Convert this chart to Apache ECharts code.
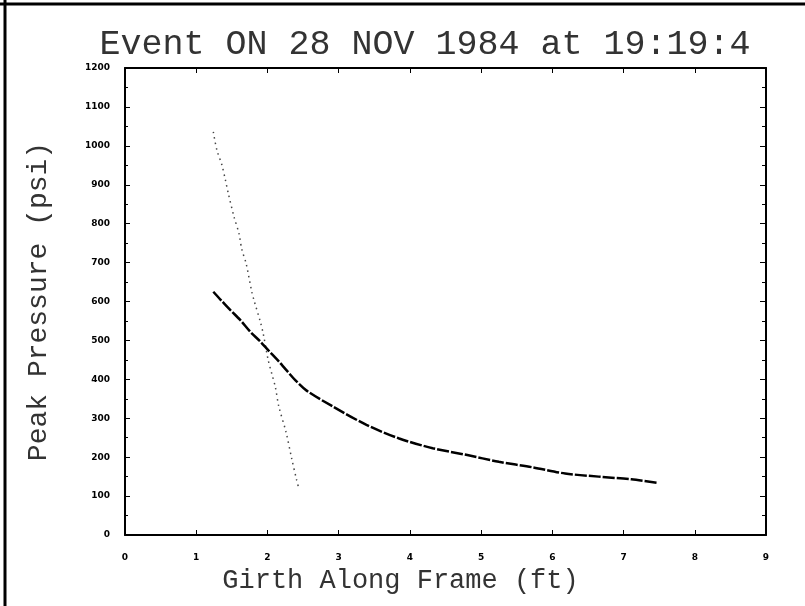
<!DOCTYPE html>
<html lang="en">
<head>
    <meta charset="UTF-8">
    <title>Peak Pressure</title>
    <style>
        body { margin: 0; background: #fff; }
    </style>
</head>
<body>
    <div id="card" style="width: 805px;height:606px;"></div>
    <script src="https://cdn.jsdelivr.net/npm/echarts@6/dist/echarts.min.js"></script>
    <script>
        var titleText = 'Event ON 28 NOV 1984 at 19:19:4'
        var xName = 'Girth Along Frame (ft)'
        var yName = 'Peak Pressure (psi)'

        // steep dotted curve
        var dottedCurve = [
            [1.24, 1036], [1.29, 989], [1.36, 951], [1.41, 912], [1.45, 878],
            [1.53, 818], [1.60, 775], [1.64, 734], [1.70, 698], [1.78, 625],
            [1.81, 604], [1.90, 548], [1.94, 518], [2.01, 450], [2.06, 415],
            [2.11, 381], [2.16, 330], [2.26, 265], [2.34, 197], [2.41, 141],
            [2.44, 120]
        ]
        // heavy curve
        var heavyCurve = [
            [1.24, 625], [1.34, 605], [1.48, 578], [1.62, 552], [1.76, 522],
            [1.90, 497], [2.01, 475], [2.15, 448], [2.25, 427], [2.39, 398],
            [2.55, 371], [2.92, 330], [3.39, 283], [3.85, 248], [4.32, 223],
            [4.79, 206], [5.25, 188], [5.72, 174], [6.18, 158], [6.65, 150],
            [7.11, 143], [7.48, 134]
        ]

        var mono = 'Liberation Mono'
        var tickFont = { color: '#000', fontSize: 9, fontWeight: 'bold', fontFamily: 'DejaVu Sans' }

        var option = {
            backgroundColor: '#fff',
            animation: false,
            title: {
                text: titleText,
                left: 420,
                top: 22,
                textAlign: 'center',
                textStyle: { fontFamily: mono, fontSize: 35, fontWeight: 'normal', color: '#333' }
            },
            graphic: [
                { type: 'line', shape: { x1: 0, y1: 4, x2: 805, y2: 4 }, style: { stroke: '#000', lineWidth: 3 } },
                { type: 'line', shape: { x1: 5, y1: 0, x2: 5, y2: 606 }, style: { stroke: '#000', lineWidth: 3 } }
            ],
            grid: { left: 125, right: 39, top: 68, bottom: 71 },
            xAxis: [{
                type: 'value',
                min: 0, max: 9, interval: 1,
                name: xName,
                nameLocation: 'middle',
                nameGap: 28,
                nameTextStyle: { fontFamily: mono, fontSize: 27, color: '#333', padding: [0, 90, 0, 0] },
                axisLine: { onZero: false, lineStyle: { color: '#000', width: 2 } },
                axisTick: { inside: true, length: 5, lineStyle: { color: '#000' } },
                axisLabel: Object.assign({ margin: 18 }, tickFont),
                splitLine: { show: false }
            }, {
                type: 'value',
                position: 'top',
                min: 0, max: 9, interval: 1,
                axisLine: { show: true, onZero: false, lineStyle: { color: '#000', width: 2 } },
                axisTick: { inside: true, length: 5, lineStyle: { color: '#000' } },
                axisLabel: { show: false },
                splitLine: { show: false }
            }],
            yAxis: [{
                type: 'value',
                min: 0, max: 1200, interval: 100,
                name: yName,
                nameLocation: 'middle',
                nameGap: 72,
                nameTextStyle: { fontFamily: mono, fontSize: 28, color: '#333' },
                axisLine: { show: true, onZero: false, lineStyle: { color: '#000', width: 2 } },
                axisTick: { inside: true, length: 5, lineStyle: { color: '#000' } },
                minorTick: { show: true, splitNumber: 2, length: 3, lineStyle: { color: '#000' } },
                axisLabel: Object.assign({ margin: 15, formatter: function (v) { return String(v) } }, tickFont),
                splitLine: { show: false }
            }, {
                type: 'value',
                position: 'right',
                min: 0, max: 1200, interval: 100,
                axisLine: { show: true, onZero: false, lineStyle: { color: '#000', width: 2 } },
                axisTick: { inside: true, length: 6, lineStyle: { color: '#000' } },
                minorTick: { show: true, splitNumber: 2, length: 4, lineStyle: { color: '#000' } },
                axisLabel: { show: false },
                splitLine: { show: false }
            }],
            series: [{
                type: 'line',
                data: dottedCurve,
                smooth: 0.3,
                symbol: 'none',
                lineStyle: { color: '#444', width: 1.5, type: [1.5, 4] }
            }, {
                type: 'line',
                data: heavyCurve,
                smooth: 0.3,
                symbol: 'none',
                lineStyle: { color: '#000', width: 2.5, type: [12, 2] }
            }]
        }

        var myChart = echarts.init(document.querySelector('#card'))
        myChart.setOption(option)
    </script>
</body>
</html>
